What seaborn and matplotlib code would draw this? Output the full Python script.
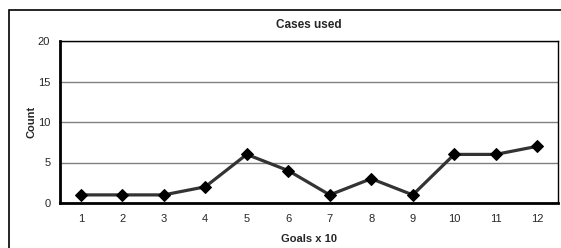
import matplotlib
matplotlib.use("Agg")
import matplotlib.pyplot as plt
import seaborn as sns
import pandas as pd
from matplotlib.patches import Rectangle

goals = [1, 2, 3, 4, 5, 6, 7, 8, 9, 10, 11, 12]
counts = [1, 1, 1, 2, 6, 4, 1, 3, 1, 6, 6, 7]
yticks = [0, 5, 10, 15, 20]

sns.set_style("white")
plt.rcParams['font.family'] = ['Liberation Sans', 'DejaVu Sans']

W, H = 561, 248
fig = plt.figure(figsize=(W / 100, H / 100), dpi=100)
ax = fig.add_axes([60 / W, 1 - 203 / H, (558 - 60) / W, (203 - 41) / H])

df = pd.DataFrame({"goals": goals, "count": counts})
sns.lineplot(data=df, x="goals", y="count", ax=ax, color="#333333", linewidth=2.3,
             marker="D", markersize=6, markerfacecolor="black", markeredgecolor="black")

ax.set_xlim(0.5, 12.5)
ax.set_ylim(0, 20)
ax.set_yticks(yticks)
ax.set_xticks(goals)
ax.set_xticks([g - 0.5 for g in goals] + [12.5], minor=True)
ax.tick_params(axis="x", which="major", length=0, labelsize=8, pad=8)
ax.tick_params(axis="x", which="minor", length=3, width=1, color="black", direction="out")
ax.tick_params(axis="y", which="major", length=3, width=1, color="black", labelsize=8, pad=4, direction="out")
ax.yaxis.grid(True, color="#808080", linewidth=1)
ax.set_axisbelow(True)
for s in ["top", "right"]:
    ax.spines[s].set_color("black")
    ax.spines[s].set_linewidth(1)
for s in ["left", "bottom"]:
    ax.spines[s].set_color("black")
    ax.spines[s].set_linewidth(2)

ax.set_xlabel("Goals x 10", fontsize=8, fontweight="bold", labelpad=7)
ax.set_ylabel("Count", fontsize=8, fontweight="bold", labelpad=1)
ax.set_title("Cases used", fontsize=8.5, fontweight="bold", pad=9)

fig.patches.append(Rectangle((9 / W, -0.1), 1.0, 1 - 10 / H + 0.1, transform=fig.transFigure,
                             fill=False, edgecolor="black", linewidth=1.2))

fig.savefig("out.png", dpi=100)
